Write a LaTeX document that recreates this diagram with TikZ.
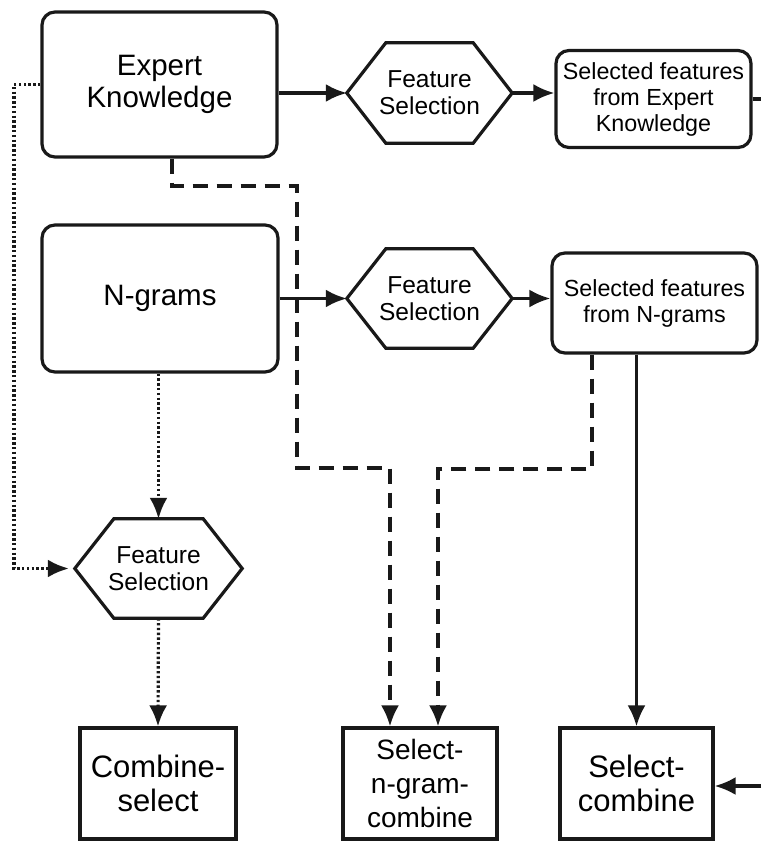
\documentclass[tikz,border=0pt]{standalone}
\usepackage{fontspec}
\setmainfont{Liberation Sans}
\usetikzlibrary{arrows.meta}
\tikzset{
  boxline/.style={line width=3.2pt, draw=black!90},
  roundbox/.style={boxline, rounded corners=13pt, align=center, inner sep=0pt},
  sharpbox/.style={boxline, align=center, inner sep=0pt, font=\fontsize{31}{34}\selectfont},
  hexnode/.style={align=center, inner sep=0pt, font=\fontsize{24.5}{27}\selectfont},
  conn/.style={line width=3.2pt, draw=black!90},
  tip/.style={-{Latex[length=21pt,width=18pt]}},
  dashline/.style={conn, dash pattern=on 15pt off 9pt},
  dotline/.style={conn, dash pattern=on 2.4pt off 2.4pt}
}
\begin{document}
\begin{tikzpicture}[x=1pt,y=-1pt]
\useasboundingbox (0,0) rectangle (761,842);
\fill[white] (0,0) rectangle (761,842);

% boxes
\node[roundbox, minimum width=235pt, minimum height=145pt, font=\fontsize{29.5}{32}\selectfont] (ek) at (159.5,84.5) {Expert\\Knowledge};
\node[roundbox, minimum width=236pt, minimum height=147pt, font=\fontsize{29.5}{32}\selectfont] (ng) at (160,298.5) {N-grams};
\node[roundbox, minimum width=195pt, minimum height=97pt, font=\fontsize{23.3}{26}\selectfont] (sfe) at (653.5,99) {Selected features\\from Expert\\Knowledge};
\node[roundbox, minimum width=205pt, minimum height=100pt, font=\fontsize{23.3}{26}\selectfont] (sfn) at (654.5,303) {Selected features\\from N-grams};

% hexagons
\node[hexnode, minimum width=165pt, minimum height=100pt] (fs1) at (429.5,93) {Feature\\Selection};
\node[hexnode, minimum width=165pt, minimum height=99pt] (fs2) at (429.5,298.5) {Feature\\Selection};
\node[hexnode, minimum width=167pt, minimum height=99pt] (fs3) at (158.5,568.5) {Feature\\Selection};
\foreach \h in {fs1,fs2,fs3}{
  \draw[boxline, line join=miter] (\h.west) -- ([xshift=39pt]\h.north west) -- ([xshift=-39pt]\h.north east)
    -- (\h.east) -- ([xshift=-39pt]\h.south east) -- ([xshift=39pt]\h.south west) -- cycle;
}

% bottom boxes
\node[sharpbox, minimum width=156pt, minimum height=111pt] (cs) at (158,783.5) {Combine-\\select};
\node[sharpbox, minimum width=154pt, minimum height=111pt, font=\fontsize{28}{34}\selectfont] (sngc) at (420,783.5) {Select-\\n-gram-\\combine};
\node[sharpbox, minimum width=153pt, minimum height=111pt] (sc) at (636.5,783.5) {Select-\\combine};

% helper coordinates
\coordinate (redge) at (761,0);
\coordinate (ledge) at (14,0);
\coordinate (j1) at (297,186);
\coordinate (j2) at (297,468);
\coordinate (j3) at (515,469);
\coordinate (rin) at (761,786);

% solid connectors
\draw[conn,tip] (ek.east |- fs1.west) -- (fs1.west);
\draw[conn,tip] (fs1.east) -- (fs1.east -| sfe.west);
\draw[conn] (sfe.east) -- (sfe.east -| redge);
\draw[conn,tip] (ng.east |- fs2.west) -- (fs2.west);
\draw[conn,tip] (fs2.east) -- (fs2.east -| sfn.west);
\draw[conn,tip] (sfn.south -| sc.north) -- (sc.north);
\draw[conn,tip] (rin) -- (rin -| sc.east);

% dashed connectors
\draw[dashline,tip] ([xshift=12.5pt]ek.south) |- (j1) -- (j2) -| ([xshift=-30pt]sngc.north);
\draw[dashline,tip] ([xshift=-62.5pt]sfn.south) |- (j3) -| ([xshift=18pt]sngc.north);

% dotted connectors
\draw[dotline,tip] (ng.south -| fs3.north) -- (fs3.north);
\draw[dotline,tip] (ek.west) -- (ek.west -| ledge) |- ([xshift=-6pt]fs3.west);
\draw[dotline,tip] (fs3.south) -- (cs.north);
\end{tikzpicture}
\end{document}
